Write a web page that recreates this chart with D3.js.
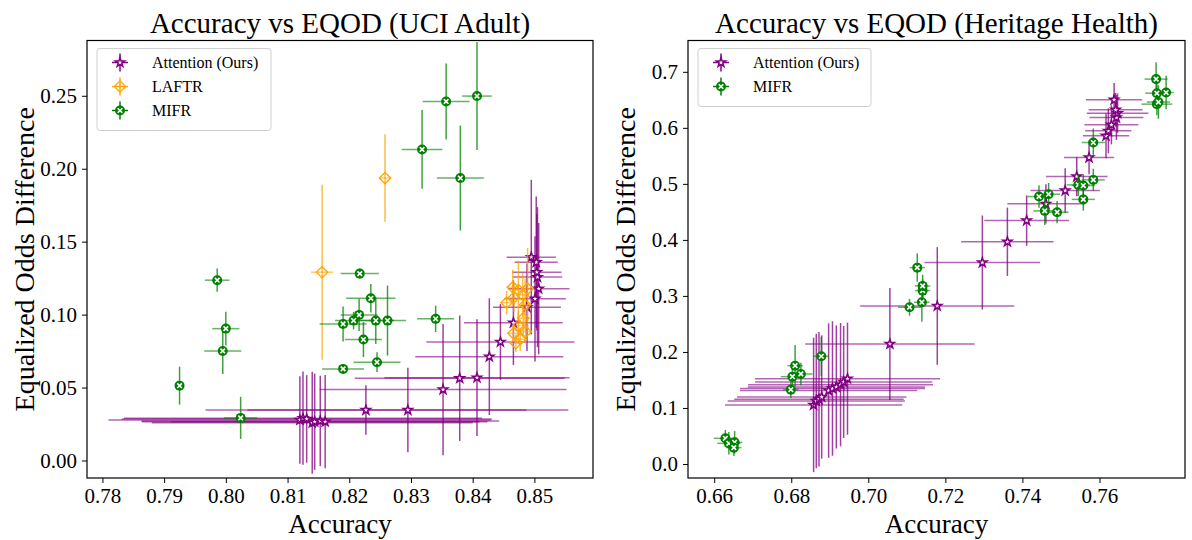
<!DOCTYPE html>
<html>
<head>
<meta charset="utf-8">
<script src="https://cdn.jsdelivr.net/npm/d3@7"></script>
<style>
    body { margin: 0; background: #fff; }
    svg text { font-family: "Liberation Serif", "DejaVu Serif", serif; fill: #000; }
</style>
</head>
<body>
<svg id="chart" width="1192" height="540"></svg>
<script>
// ---- UCI Adult ----
var adultAttnX    = [0.8120, 0.8125, 0.8131, 0.8140, 0.8144, 0.8153, 0.8161, 0.8227, 0.8295, 0.8352, 0.8379, 0.8407, 0.8427, 0.8445, 0.8466, 0.8488, 0.8501, 0.8507, 0.8505, 0.8504, 0.8503, 0.8495];
var adultAttnY    = [0.0278, 0.0290, 0.0285, 0.0259, 0.0266, 0.0271, 0.0266, 0.0346, 0.0346, 0.0486, 0.0564, 0.0568, 0.0712, 0.0813, 0.0945, 0.1051, 0.1108, 0.1178, 0.1257, 0.1291, 0.1359, 0.1394];
var adultAttnXErr = [0.031, 0.029, 0.030, 0.026, 0.028, 0.029, 0.025, 0.026, 0.026, 0.020, 0.017, 0.015, 0.012, 0.012, 0.008, 0.0055, 0.005, 0.005, 0.004, 0.004, 0.0035, 0.004];
var adultAttnYErr = [0.030, 0.032, 0.030, 0.035, 0.033, 0.031, 0.032, 0.017, 0.029, 0.045, 0.043, 0.040, 0.040, 0.026, 0.029, 0.030, 0.043, 0.045, 0.048, 0.040, 0.045, 0.053];

var adultLaftrX    = [0.8156, 0.8258, 0.8465, 0.8474, 0.8489, 0.8467, 0.8455, 0.8481, 0.8485, 0.8482, 0.8474, 0.8486, 0.8466, 0.8477, 0.8470];
var adultLaftrY    = [0.1291, 0.1936, 0.1188, 0.1169, 0.1178, 0.1117, 0.1082, 0.1135, 0.1067, 0.0975, 0.0925, 0.0883, 0.0872, 0.0831, 0.0804];
var adultLaftrXErr = [0.0018, 0.0010, 0.001, 0.001, 0.001, 0.001, 0.001, 0.001, 0.001, 0.001, 0.001, 0.001, 0.001, 0.001, 0.001];
var adultLaftrYErr = [0.060, 0.030, 0.012, 0.020, 0.028, 0.010, 0.008, 0.015, 0.018, 0.012, 0.010, 0.008, 0.006, 0.008, 0.006];

var adultMifrX    = [0.7925, 0.7986, 0.8000, 0.7995, 0.8024, 0.8217, 0.8235, 0.8216, 0.8207, 0.8190, 0.8243, 0.8262, 0.8223, 0.8245, 0.8190, 0.8340, 0.8318, 0.8357, 0.8407, 0.8380];
var adultMifrY    = [0.0513, 0.1236, 0.0904, 0.0751, 0.0292, 0.1281, 0.1112, 0.0998, 0.0959, 0.0936, 0.0959, 0.0959, 0.0829, 0.0674, 0.0628, 0.0971, 0.2132, 0.2461, 0.2498, 0.1936];
var adultMifrXErr = [0.0005, 0.002, 0.0022, 0.003, 0.0027, 0.0031, 0.004, 0.003, 0.003, 0.0038, 0.003, 0.003, 0.003, 0.0038, 0.0034, 0.003, 0.0033, 0.0038, 0.0024, 0.0038];
var adultMifrYErr = [0.013, 0.008, 0.0115, 0.0158, 0.0144, 0.0034, 0.0098, 0.011, 0.006, 0.012, 0.016, 0.024, 0.012, 0.0068, 0.002, 0.009, 0.027, 0.026, 0.037, 0.036];

var adultXTicks = [0.78, 0.79, 0.80, 0.81, 0.82, 0.83, 0.84, 0.85];
var adultYTicks = [0.00, 0.05, 0.10, 0.15, 0.20, 0.25];

// ---- Heritage Health ----
var healthAttnX    = [0.6858, 0.6865, 0.6872, 0.6879, 0.6897, 0.6907, 0.6917, 0.6928, 0.6936, 0.6946, 0.7056, 0.7179, 0.7296, 0.7361, 0.7411, 0.7461, 0.7511, 0.7541, 0.7573, 0.7617, 0.7623, 0.7631, 0.7644, 0.7647, 0.7642, 0.7638];
var healthAttnY    = [0.1054, 0.1125, 0.1155, 0.1196, 0.1310, 0.1348, 0.1375, 0.1416, 0.1464, 0.1523, 0.2143, 0.2821, 0.3595, 0.3967, 0.4345, 0.4643, 0.4880, 0.5130, 0.5470, 0.5857, 0.5946, 0.6054, 0.6184, 0.6262, 0.6321, 0.6500];
var healthAttnXErr = [0.023, 0.023, 0.022, 0.022, 0.023, 0.024, 0.023, 0.024, 0.023, 0.024, 0.022, 0.020, 0.015, 0.012, 0.011, 0.010, 0.009, 0.008, 0.0065, 0.006, 0.006, 0.007, 0.007, 0.008, 0.007, 0.0073];
var healthAttnYErr = [0.12, 0.12, 0.12, 0.11, 0.12, 0.12, 0.11, 0.11, 0.10, 0.10, 0.10, 0.105, 0.084, 0.061, 0.045, 0.035, 0.040, 0.035, 0.030, 0.040, 0.040, 0.035, 0.040, 0.035, 0.030, 0.030];

var healthMifrX    = [0.6629, 0.6638, 0.6653, 0.6651, 0.6799, 0.6803, 0.6810, 0.6825, 0.6878, 0.7107, 0.7139, 0.7141, 0.7141, 0.7127, 0.7443, 0.7458, 0.7468, 0.7490, 0.7545, 0.7558, 0.7558, 0.7584, 0.7584, 0.7747, 0.7749, 0.7773, 0.7749, 0.7753];
var healthMifrY    = [0.0458, 0.0369, 0.0387, 0.0292, 0.1327, 0.1559, 0.1755, 0.1607, 0.1923, 0.2798, 0.2888, 0.3095, 0.3179, 0.3505, 0.4774, 0.4518, 0.4816, 0.4495, 0.4982, 0.4970, 0.4723, 0.5071, 0.5738, 0.6870, 0.6619, 0.6630, 0.6423, 0.6461];
var healthMifrXErr = [0.003, 0.003, 0.002, 0.002, 0.002, 0.003, 0.002, 0.003, 0.002, 0.003, 0.002, 0.002, 0.002, 0.002, 0.003, 0.003, 0.003, 0.003, 0.003, 0.003, 0.003, 0.003, 0.003, 0.003, 0.003, 0.002, 0.004, 0.003];
var healthMifrYErr = [0.015, 0.020, 0.020, 0.015, 0.015, 0.020, 0.037, 0.020, 0.035, 0.015, 0.035, 0.020, 0.020, 0.025, 0.020, 0.025, 0.020, 0.020, 0.020, 0.020, 0.020, 0.020, 0.025, 0.030, 0.020, 0.030, 0.020, 0.030];

var healthXTicks = [0.66, 0.68, 0.70, 0.72, 0.74, 0.76];
var healthYTicks = [0.0, 0.1, 0.2, 0.3, 0.4, 0.5, 0.6, 0.7];

var PURPLE = "#800080", ORANGE = "#ffa500", GREEN = "#008000";

function zip(xs, ys, xe, ye)
{
    return xs.map(function (x, i) { return { x: x, y: ys[i], xe: xe[i], ye: ye[i] }; });
}

var attnStyle  = { label: "Attention (Ours)", color: PURPLE, marker: "star" };
var laftrStyle = { label: "LAFTR", color: ORANGE, marker: "diamond" };
var mifrStyle  = { label: "MIFR", color: GREEN, marker: "xcircle" };

var svg = d3.select("#chart");

function drawMarker(g, kind, color)
{
    if (kind == "star")
    {
        g.append("path")
            .attr("d", d3.symbol().type(d3.symbolStar).size(26)())
            .attr("fill", "#fff")
            .attr("stroke", color)
            .attr("stroke-width", 1.5);
    }
    else if (kind == "diamond")
    {
        g.append("rect")
            .attr("x", -4).attr("y", -4)
            .attr("width", 8).attr("height", 8)
            .attr("transform", "rotate(45)")
            .attr("fill", "none")
            .attr("stroke", color)
            .attr("stroke-width", 1.3);
    }
    else
    {
        g.append("circle").attr("r", 5).attr("fill", color);
        g.append("path")
            .attr("d", "M-2.3,-2.3L2.3,2.3M-2.3,2.3L2.3,-2.3")
            .attr("stroke", "#fff")
            .attr("stroke-width", 1.6);
    }
}

function drawPanel(p)
{
    var x = d3.scaleLinear().domain(p.xDomain).range([p.left, p.right]);
    var y = d3.scaleLinear().domain(p.yDomain).range([p.bottom, p.top]);
    var g = svg.append("g");

    var plot = g.append("g");

    p.series.forEach(function (s)
    {
        var sg = plot.append("g");
        var pts = s.data;

        // error bars, horizontal then vertical
        sg.selectAll("line.xerr").data(pts).enter().append("line")
            .attr("class", "xerr")
            .attr("x1", function (d) { return x(d.x - d.xe); })
            .attr("x2", function (d) { return x(d.x + d.xe); })
            .attr("y1", function (d) { return y(d.y); })
            .attr("y2", function (d) { return y(d.y); })
            .attr("stroke", s.style.color)
            .attr("stroke-opacity", 0.6)
            .attr("stroke-width", 1.5);

        sg.selectAll("line.yerr").data(pts).enter().append("line")
            .attr("class", "yerr")
            .attr("x1", function (d) { return x(d.x); })
            .attr("x2", function (d) { return x(d.x); })
            .attr("y1", function (d) { return y(d.y - d.ye); })
            .attr("y2", function (d) { return y(d.y + d.ye); })
            .attr("stroke", s.style.color)
            .attr("stroke-opacity", 0.75)
            .attr("stroke-width", 1.5);

        sg.selectAll("g.mk").data(pts).enter().append("g")
            .attr("class", "mk")
            .attr("transform", function (d) { return "translate(" + x(d.x) + "," + y(d.y) + ")"; })
            .each(function () { drawMarker(d3.select(this), s.style.marker, s.style.color); });
    });

    // frame
    g.append("rect")
        .attr("x", p.left).attr("y", p.top)
        .attr("width", p.right - p.left).attr("height", p.bottom - p.top)
        .attr("fill", "none").attr("stroke", "#000").attr("stroke-width", 1.2);

    var xAxis = g.append("g")
        .attr("transform", "translate(0," + p.bottom + ")")
        .call(d3.axisBottom(x).tickValues(p.xTicks).tickFormat(d3.format(".2f")).tickSize(5).tickPadding(5));
    var yAxis = g.append("g")
        .attr("transform", "translate(" + p.left + ",0)")
        .call(d3.axisLeft(y).tickValues(p.yTicks).tickFormat(d3.format(p.yFormat)).tickSize(5).tickPadding(5));

    [xAxis, yAxis].forEach(function (a)
    {
        a.select(".domain").remove();
        a.selectAll("line").attr("stroke", "#000").attr("stroke-width", 1);
        a.selectAll("text").style("font-size", "21px").attr("fill", "#000");
    });

    var cx = (p.left + p.right) / 2;
    g.append("text")
        .attr("x", cx).attr("y", 33)
        .attr("text-anchor", "middle")
        .style("font-size", "29px")
        .text(p.title);

    g.append("text")
        .attr("x", cx).attr("y", 533)
        .attr("text-anchor", "middle")
        .style("font-size", "27px")
        .text("Accuracy");

    g.append("text")
        .attr("transform", "translate(" + (p.left - 53) + "," + ((p.top + p.bottom) / 2) + ") rotate(-90)")
        .attr("text-anchor", "middle")
        .style("font-size", "28px")
        .text("Equalized Odds Difference");

    // legend
    var lg = g.append("g").attr("transform", "translate(" + (p.left + 10) + "," + (p.top + 8) + ")");
    var rowH = 24;
    lg.append("rect")
        .attr("x", 0).attr("y", 0)
        .attr("width", p.legendWidth).attr("height", 16 + rowH * p.series.length - 6)
        .attr("rx", 3)
        .attr("fill", "#fff").attr("fill-opacity", 0.8)
        .attr("stroke", "#d0d0d0");
    p.series.forEach(function (s, i)
    {
        var row = lg.append("g").attr("transform", "translate(23," + (14 + i * rowH) + ")");
        row.append("line").attr("x1", -8).attr("x2", 8).attr("y1", 0).attr("y2", 0)
            .attr("stroke", s.style.color).attr("stroke-width", 1.5);
        row.append("line").attr("x1", 0).attr("x2", 0).attr("y1", -9).attr("y2", 9)
            .attr("stroke", s.style.color).attr("stroke-width", 1.5);
        drawMarker(row, s.style.marker, s.style.color);
        row.append("text")
            .attr("x", 32).attr("y", 5.5)
            .style("font-size", "16px")
            .text(s.style.label);
    });
}

drawPanel({
    title: "Accuracy vs EQOD (UCI Adult)",
    left: 87, right: 593, top: 40.5, bottom: 478,
    xDomain: [0.7775, 0.8595], yDomain: [-0.012, 0.2879],
    xTicks: adultXTicks, yTicks: adultYTicks, yFormat: ".2f",
    legendWidth: 174,
    series: [
        { style: attnStyle,  data: zip(adultAttnX, adultAttnY, adultAttnXErr, adultAttnYErr) },
        { style: laftrStyle, data: zip(adultLaftrX, adultLaftrY, adultLaftrXErr, adultLaftrYErr) },
        { style: mifrStyle,  data: zip(adultMifrX, adultMifrY, adultMifrXErr, adultMifrYErr) }
    ]
});

drawPanel({
    title: "Accuracy vs EQOD (Heritage Health)",
    left: 688, right: 1185, top: 40.5, bottom: 478,
    xDomain: [0.6532, 0.7822], yDomain: [-0.025, 0.7559],
    xTicks: healthXTicks, yTicks: healthYTicks, yFormat: ".1f",
    legendWidth: 173,
    series: [
        { style: attnStyle, data: zip(healthAttnX, healthAttnY, healthAttnXErr, healthAttnYErr) },
        { style: mifrStyle, data: zip(healthMifrX, healthMifrY, healthMifrXErr, healthMifrYErr) }
    ]
});
</script>
</body>
</html>
